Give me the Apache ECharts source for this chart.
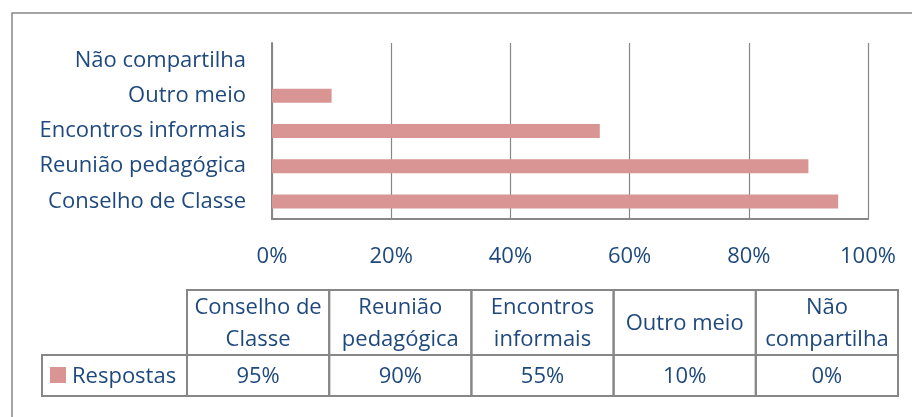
<!DOCTYPE html>
<html>
<head>
<meta charset="utf-8">
<script src="https://cdn.jsdelivr.net/npm/echarts@6/dist/echarts.min.js"></script>
<style>
  html, body { margin: 0; padding: 0; background: #fff; }
  #chart { width: 912px; height: 417px; }
</style>
</head>
<body>
<div id="chart"></div>
<script>
// chart data
const categories = ['Conselho de Classe', 'Reunião pedagógica', 'Encontros informais', 'Outro meio', 'Não compartilha']
const tableHeaders = ['Conselho de\nClasse', 'Reunião\npedagógica', 'Encontros\ninformais', 'Outro meio', 'Não\ncompartilha']
const respostas = [95, 90, 55, 10, 0]
const seriesName = 'Respostas'
const axisMin = 0
const axisMax = 100
const axisStep = 20

const textColor = '#1F497D'
const barColor = '#D99594'
const lineColor = '#878787'
const fontFamily = 'Open Sans'
const fontSize = 22

const chart = echarts.init(document.getElementById('chart'))

// data table under the chart (layout only, contents come from the arrays)
const table = { left: 187, colW: 142.2, headTop: 290, headH: 65, rowH: 41, legendLeft: 42 }
const graphics = []

// outer frame
graphics.push({
  type: 'rect',
  shape: { x: 12, y: 13, width: 960, height: 460 },
  style: { fill: null, stroke: lineColor, lineWidth: 1.5 },
  silent: true
})

tableHeaders.forEach((h, i) => {
  const x = table.left + i * table.colW
  graphics.push({
    type: 'rect',
    shape: { x: x, y: table.headTop, width: table.colW, height: table.headH },
    style: { fill: null, stroke: lineColor, lineWidth: 2 }
  })
  graphics.push({
    type: 'rect',
    shape: { x: x, y: table.headTop + table.headH, width: table.colW, height: table.rowH },
    style: { fill: null, stroke: lineColor, lineWidth: 2 }
  })
  graphics.push({
    type: 'text',
    style: {
      text: h, x: x + table.colW / 2, y: table.headTop + table.headH / 2 + 1,
      align: 'center', verticalAlign: 'middle', lineHeight: 32,
      fontSize: fontSize, fontFamily: fontFamily, fill: textColor
    }
  })
  graphics.push({
    type: 'text',
    style: {
      text: respostas[i] + '%', x: x + table.colW / 2, y: table.headTop + table.headH + table.rowH / 2 + 1,
      align: 'center', verticalAlign: 'middle',
      fontSize: fontSize, fontFamily: fontFamily, fill: textColor
    }
  })
})

// legend cell
graphics.push({
  type: 'rect',
  shape: { x: table.legendLeft, y: table.headTop + table.headH, width: table.left - table.legendLeft, height: table.rowH },
  style: { fill: null, stroke: lineColor, lineWidth: 2 }
})
graphics.push({
  type: 'rect',
  shape: { x: 50, y: table.headTop + table.headH + 12, width: 16, height: 16 },
  style: { fill: barColor }
})
graphics.push({
  type: 'text',
  style: {
    text: seriesName, x: 72, y: table.headTop + table.headH + table.rowH / 2 + 1,
    align: 'left', verticalAlign: 'middle',
    fontSize: fontSize, fontFamily: fontFamily, fill: textColor
  }
})

chart.setOption({
  animation: false,
  textStyle: { fontFamily: fontFamily },
  grid: {
    left: 272,
    right: 44,
    top: 43,
    bottom: 198
  },
  xAxis: {
    type: 'value',
    min: axisMin,
    max: axisMax,
    interval: axisStep,
    axisLine: { show: true, lineStyle: { color: lineColor, width: 2 } },
    axisTick: { show: false },
    splitLine: { show: true, lineStyle: { color: lineColor, width: 1.2 } },
    axisLabel: {
      formatter: '{value}%',
      color: textColor,
      fontSize: fontSize,
      margin: 27
    }
  },
  yAxis: {
    type: 'category',
    data: categories,
    axisLine: { show: true, lineStyle: { color: lineColor, width: 2 } },
    axisTick: { show: false },
    axisLabel: {
      color: textColor,
      fontSize: fontSize,
      margin: 26
    }
  },
  series: [{
    name: seriesName,
    type: 'bar',
    data: respostas,
    barWidth: 14,
    itemStyle: { color: barColor }
  }],
  graphic: graphics
})
</script>
</body>
</html>
